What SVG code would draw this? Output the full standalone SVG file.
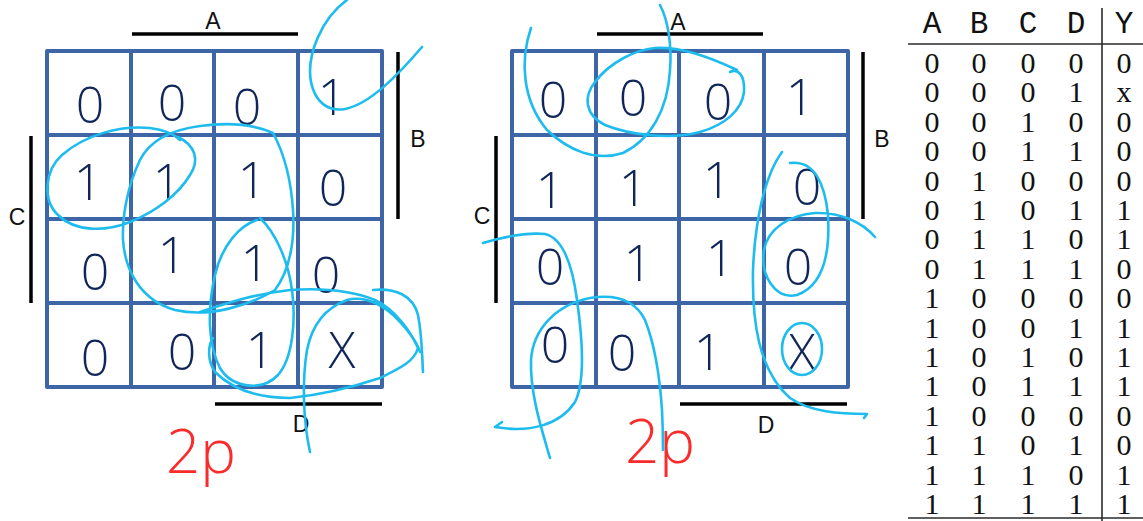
<svg xmlns="http://www.w3.org/2000/svg" width="1143" height="521" viewBox="0 0 1143 521">
<style>
.grid{fill:none;stroke:#3e66a6;stroke-width:4;stroke-linejoin:round;stroke-linecap:round}
.bar{stroke:#000;stroke-width:3.5}
.lbl{font-family:"Liberation Sans",Arial,sans-serif;font-size:23px;fill:#111;text-anchor:middle}
.hw{font-family:"Open Sans","Liberation Sans",sans-serif;font-weight:300;font-size:50px;fill:#102659;text-anchor:middle}
.pen{fill:none;stroke:#1ebcee;stroke-width:2.6;stroke-linecap:round;stroke-linejoin:round}
.red{font-family:"Open Sans","Liberation Sans",sans-serif;font-weight:300;font-size:60px;fill:#fa2b2b}
.th{font-family:"Liberation Mono","Courier New",monospace;font-size:31px;fill:#111;text-anchor:middle}
.td{font-family:"Liberation Serif","Times New Roman",serif;font-size:30px;fill:#111;text-anchor:middle}
.rule{stroke:#2a2a2a;stroke-width:1.6}
</style>
<rect width="1143" height="521" fill="#fff"/>

<g id="map1">
<path class="grid" d="M47,51H382V387H47Z M131,51V387 M214,51V387 M298,51V387 M47,135H382 M47,219H382 M47,303H382"/>
<line class="bar" x1="132" y1="34" x2="298" y2="34"/>
<line class="bar" x1="398" y1="52" x2="398" y2="219"/>
<line class="bar" x1="31" y1="136" x2="31" y2="303"/>
<line class="bar" x1="215" y1="404" x2="382" y2="404"/>
<text class="lbl" x="213" y="29">A</text>
<text class="lbl" x="418" y="147">B</text>
<text class="lbl" x="17" y="225">C</text>
<text class="lbl" x="301" y="432">D</text>
<text class="hw" x="90" y="123">0</text>
<text class="hw" x="172" y="121">0</text>
<text class="hw" x="247" y="125">0</text>
<text class="hw" x="332" y="115">1</text>
<text class="hw" x="88" y="200">1</text>
<text class="hw" x="167" y="200">1</text>
<text class="hw" x="252" y="198">1</text>
<text class="hw" x="333" y="206">0</text>
<text class="hw" x="95" y="290">0</text>
<text class="hw" x="172" y="273">1</text>
<text class="hw" x="255" y="281">1</text>
<text class="hw" x="326" y="293">0</text>
<text class="hw" x="95" y="376">0</text>
<text class="hw" x="182" y="370">0</text>
<text class="hw" x="260" y="368">1</text>
<text class="hw" x="342" y="368">X</text>
<text class="red" x="166" y="473">2p</text>
</g>

<g id="map2">
<path class="grid" d="M512,51H848V387H512Z M596,51V387 M679,51V387 M764,51V387 M512,135H848 M512,219H848 M512,303H848"/>
<line class="bar" x1="597" y1="34" x2="763" y2="34"/>
<line class="bar" x1="863" y1="52" x2="863" y2="219"/>
<line class="bar" x1="496" y1="136" x2="496" y2="303"/>
<line class="bar" x1="680" y1="404" x2="847" y2="404"/>
<text class="lbl" x="678" y="30">A</text>
<text class="lbl" x="882" y="147">B</text>
<text class="lbl" x="482" y="224">C</text>
<text class="lbl" x="766" y="433">D</text>
<text class="hw" x="553" y="118">0</text>
<text class="hw" x="633" y="116">0</text>
<text class="hw" x="718" y="120">0</text>
<text class="hw" x="800" y="115">1</text>
<text class="hw" x="550" y="208">1</text>
<text class="hw" x="633" y="206">1</text>
<text class="hw" x="717" y="198">1</text>
<text class="hw" x="807" y="205">0</text>
<text class="hw" x="550" y="285">0</text>
<text class="hw" x="638" y="281">1</text>
<text class="hw" x="720" y="276">1</text>
<text class="hw" x="798" y="285">0</text>
<text class="hw" x="555" y="363">0</text>
<text class="hw" x="622" y="371">0</text>
<text class="hw" x="708" y="370">1</text>
<text class="hw" x="802" y="370">X</text>
<text class="red" x="625" y="463">2p</text>
</g>

<g id="connectors">
<path class="pen" d="M347,0 C322,18 306,55 311,82 C315,102 328,112 345,109 C370,104 398,75 422,47"/>
<path class="pen" d="M178,137 C195,145 200,160 190,175 C178,195 155,212 130,222 C105,232 75,232 58,215 C42,200 45,170 62,155 C85,135 120,125 150,128 C165,130 175,135 180,140"/>
<path class="pen" d="M273,133 C255,125 230,122 200,126 C170,130 150,140 140,160 C128,185 122,215 123,240 C125,270 140,300 175,310 C210,318 250,305 275,290 C290,270 295,240 293,210 C291,180 285,155 273,133"/>
<path class="pen" d="M257,220 C240,225 222,245 215,275 C207,310 208,345 220,368 C232,388 262,392 278,375 C293,358 296,320 292,290 C288,260 275,232 260,218"/>
<path class="pen" d="M200,312 C230,302 255,294 290,290 C320,288 350,290 375,300 C395,310 410,330 418,348 C414,362 400,368 380,378 C350,388 320,395 290,398 C255,398 230,387 215,372 C207,360 208,345 213,338"/>
<path class="pen" d="M310,452 C303,420 302,380 307,350 C312,325 325,308 347,300 C365,295 385,305 400,322 C410,333 418,345 420,352"/>
<path class="pen" d="M373,290 C395,288 413,295 418,315 C422,335 422,355 423,372"/>

<path class="pen" d="M531,28 C520,60 522,100 547,130 C568,150 595,162 623,153 C650,140 668,110 670,70 C672,45 668,20 660,5"/>
<path class="pen" d="M730,72 C738,68 745,75 744,92 C742,110 725,125 700,132 C670,140 630,135 605,125 C585,115 583,97 595,82 C610,62 635,50 655,48 C680,47 705,55 737,70"/>
<path class="pen" d="M483,243 C500,238 525,232 545,234 C562,238 572,262 577,300 C582,335 586,380 575,402 C560,425 530,433 495,427 L502,422"/>
<path class="pen" d="M550,458 C542,430 530,395 531,360 C533,330 555,305 590,298 C615,294 635,300 645,320 C655,345 660,380 662,410 C663,430 663,445 663,450"/>
<path class="pen" d="M782,152 C765,175 755,220 753,270 C752,320 758,370 790,398 C810,412 840,414 867,414 L864,418"/>
<path class="pen" d="M790,163 C815,160 825,185 828,215 C830,250 825,285 797,295 C775,300 760,275 764,250 C768,228 790,215 815,213 C840,212 862,222 875,237"/>
<ellipse class="pen" cx="802" cy="349" rx="20" ry="26"/>
</g>

<g id="truth-table">
<line class="rule" x1="1102" y1="8" x2="1102" y2="521"/>
<line class="rule" x1="908" y1="44" x2="1143" y2="44"/>
<line class="rule" x1="908" y1="518" x2="1143" y2="518"/>
<text class="th" y="33"><tspan x="932">A</tspan><tspan x="979">B</tspan><tspan x="1028">C</tspan><tspan x="1076">D</tspan><tspan x="1124">Y</tspan></text>
<text class="td" y="73"><tspan x="932">0</tspan><tspan x="979">0</tspan><tspan x="1028">0</tspan><tspan x="1076">0</tspan><tspan x="1124">0</tspan></text>
<text class="td" y="102.4"><tspan x="932">0</tspan><tspan x="979">0</tspan><tspan x="1028">0</tspan><tspan x="1076">1</tspan><tspan x="1124">x</tspan></text>
<text class="td" y="131.8"><tspan x="932">0</tspan><tspan x="979">0</tspan><tspan x="1028">1</tspan><tspan x="1076">0</tspan><tspan x="1124">0</tspan></text>
<text class="td" y="161.2"><tspan x="932">0</tspan><tspan x="979">0</tspan><tspan x="1028">1</tspan><tspan x="1076">1</tspan><tspan x="1124">0</tspan></text>
<text class="td" y="190.6"><tspan x="932">0</tspan><tspan x="979">1</tspan><tspan x="1028">0</tspan><tspan x="1076">0</tspan><tspan x="1124">0</tspan></text>
<text class="td" y="220"><tspan x="932">0</tspan><tspan x="979">1</tspan><tspan x="1028">0</tspan><tspan x="1076">1</tspan><tspan x="1124">1</tspan></text>
<text class="td" y="249.4"><tspan x="932">0</tspan><tspan x="979">1</tspan><tspan x="1028">1</tspan><tspan x="1076">0</tspan><tspan x="1124">1</tspan></text>
<text class="td" y="278.8"><tspan x="932">0</tspan><tspan x="979">1</tspan><tspan x="1028">1</tspan><tspan x="1076">1</tspan><tspan x="1124">0</tspan></text>
<text class="td" y="308.2"><tspan x="932">1</tspan><tspan x="979">0</tspan><tspan x="1028">0</tspan><tspan x="1076">0</tspan><tspan x="1124">0</tspan></text>
<text class="td" y="337.6"><tspan x="932">1</tspan><tspan x="979">0</tspan><tspan x="1028">0</tspan><tspan x="1076">1</tspan><tspan x="1124">1</tspan></text>
<text class="td" y="367"><tspan x="932">1</tspan><tspan x="979">0</tspan><tspan x="1028">1</tspan><tspan x="1076">0</tspan><tspan x="1124">1</tspan></text>
<text class="td" y="396.4"><tspan x="932">1</tspan><tspan x="979">0</tspan><tspan x="1028">1</tspan><tspan x="1076">1</tspan><tspan x="1124">1</tspan></text>
<text class="td" y="425.8"><tspan x="932">1</tspan><tspan x="979">0</tspan><tspan x="1028">0</tspan><tspan x="1076">0</tspan><tspan x="1124">0</tspan></text>
<text class="td" y="455.2"><tspan x="932">1</tspan><tspan x="979">1</tspan><tspan x="1028">0</tspan><tspan x="1076">1</tspan><tspan x="1124">0</tspan></text>
<text class="td" y="484.6"><tspan x="932">1</tspan><tspan x="979">1</tspan><tspan x="1028">1</tspan><tspan x="1076">0</tspan><tspan x="1124">1</tspan></text>
<text class="td" y="514"><tspan x="932">1</tspan><tspan x="979">1</tspan><tspan x="1028">1</tspan><tspan x="1076">1</tspan><tspan x="1124">1</tspan></text>
</g>
</svg>
